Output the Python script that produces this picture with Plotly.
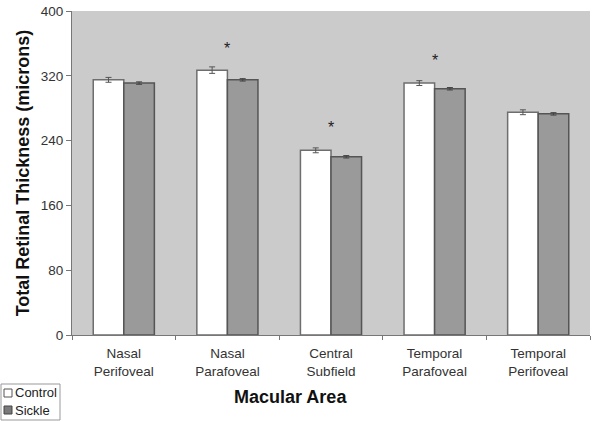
import plotly.graph_objects as go

categories = ["Nasal<br>Perifoveal", "Nasal<br>Parafoveal", "Central<br>Subfield",
              "Temporal<br>Parafoveal", "Temporal<br>Perifoveal"]
control = [315, 327, 228, 311, 275]
control_err = [3, 4, 3, 3, 3]
sickle = [311, 315, 220, 304, 273]
sickle_err = [1.5, 1.5, 1.5, 1.5, 1.5]
star_cats = ["Nasal<br>Parafoveal", "Central<br>Subfield", "Temporal<br>Parafoveal"]
star_y = [354, 256, 339]
y_ticks = [0, 80, 160, 240, 320, 400]

W, H = 602, 421
ML, MR, MT, MB = 72, 12, 11, 86
PW, PH = W - ML - MR, H - MT - MB


def px(x):
    return (x - ML) / PW


def py(y):
    return (H - MB - y) / PH


control_color = "white"
sickle_color = "#9a9a9a"

fig = go.Figure()
fig.add_trace(go.Bar(
    x=categories, y=control, name="Control",
    marker=dict(color=control_color, line=dict(color="#6e6e6e", width=1.5)),
    error_y=dict(type="data", array=control_err, visible=True, color="#555", thickness=1, width=3),
))
fig.add_trace(go.Bar(
    x=categories, y=sickle, name="Sickle",
    marker=dict(color=sickle_color, line=dict(color="#555", width=1.5)),
    error_y=dict(type="data", array=sickle_err, visible=True, color="#444", thickness=1, width=3),
))

for c, yv in zip(star_cats, star_y):
    fig.add_annotation(x=c, y=yv, text="*", showarrow=False,
                       font=dict(size=16, color="#222", family="Liberation Sans"))

fig.add_annotation(xref="paper", yref="paper", x=px(290), y=py(397), yanchor="middle",
                   text="<b>Macular Area</b>", showarrow=False,
                   font=dict(size=18, color="#111"))

# compact legend box (bottom-left), as in the reference
fig.add_shape(type="rect", xref="paper", yref="paper",
              x0=px(1), x1=px(60), y0=py(384), y1=py(420),
              line=dict(color="#999", width=1), fillcolor="white", layer="above")
leg_items = [(fig.data[0].name, control_color, "#555", 393),
             (fig.data[1].name, "#7a7a7a", "#444", 410)]
for name, fill, edge, yc in leg_items:
    fig.add_shape(type="rect", xref="paper", yref="paper",
                  x0=px(4), x1=px(12), y0=py(yc + 4), y1=py(yc - 4),
                  line=dict(color=edge, width=1), fillcolor=fill, layer="above")
    fig.add_annotation(xref="paper", yref="paper", x=px(12.5), y=py(yc),
                       xanchor="left", yanchor="middle", text=name, showarrow=False,
                       font=dict(size=13, color="#222"))

fig.update_layout(
    width=W, height=H,
    margin=dict(l=ML, r=MR, t=MT, b=MB, autoexpand=False),
    paper_bgcolor="white", plot_bgcolor="#cbcbcb",
    barmode="group", bargap=0.41, bargroupgap=0,
    font=dict(family="Liberation Sans, Arial", color="#333"),
    showlegend=False,
    xaxis=dict(showgrid=False, showline=True, linecolor="#777", linewidth=1,
               ticks="outside", tickson="boundaries", ticklen=4, tickcolor="#777",
               tickfont=dict(size=13.5, color="#333"), automargin=False,
               ticklabelstandoff=6),
    yaxis=dict(range=[0, 400], tickvals=y_ticks, showgrid=False, showline=True,
               linecolor="#777", linewidth=1, ticks="outside", ticklen=5, tickcolor="#777",
               tickfont=dict(size=13.5, color="#333"), zeroline=False, automargin=False,
               ticklabeloverflow="allow",
               title=dict(text="<b>Total Retinal Thickness (microns)</b>",
                          font=dict(size=18, color="#111"), standoff=6)),
)

# remove the browser's default 8px body margin so the figure fills the window
fig.write_html("out.html", config={"displayModeBar": False},
               post_script="document.body.style.margin='0';")
